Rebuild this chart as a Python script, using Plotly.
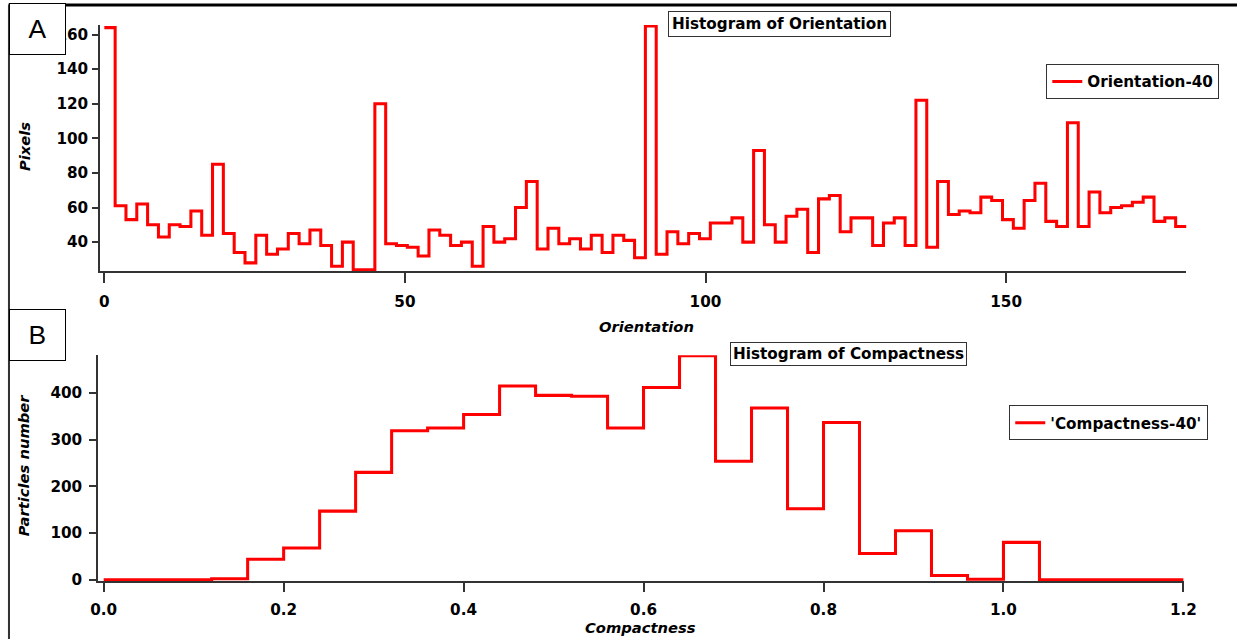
import numpy as np
import plotly.graph_objects as go

# Page geometry: the photo shows the page at a small fixed scale/offset, so
# reference pixel positions are converted to page pixels before use.
SX, SY, OX = 0.982, 0.987, 8.0
W, H = 1252, 648

# ---------------- Data ----------------
# Orientation histogram: 100 bins of width 1.8 deg over 0..180
orient_bin_width = 1.8
orient_counts = [
    164, 61, 53, 62, 50, 43, 50, 49, 58, 44,
    85, 45, 34, 28, 44, 33, 36, 45, 39, 47,
    38, 26, 40, 24, 24, 120, 39, 38, 37, 32,
    47, 44, 38, 40, 26, 49, 40, 42, 60, 75,
    36, 48, 39, 42, 36, 44, 34, 44, 41, 31,
    165, 33, 46, 39, 45, 42, 51, 51, 54, 40,
    93, 50, 40, 55, 59, 34, 65, 67, 46, 54,
    54, 38, 51, 54, 38, 122, 37, 75, 56, 58,
    57, 66, 64, 53, 48, 64, 74, 52, 49, 109,
    49, 69, 57, 60, 61, 63, 66, 52, 54, 49,
]
orient_ticks = [0, 50, 100, 150]
pixels_ticks = [40, 60, 80, 100, 120, 140, 160]

# Compactness histogram: 30 bins of width 0.04 over 0..1.2
compact_bin_width = 0.04
compact_counts = [
    0, 0, 0, 2, 44, 68, 147, 230, 319, 325,
    354, 415, 395, 393, 325, 412, 480, 254, 368, 152,
    337, 56, 105, 9, 1, 80, 0, 0, 0, 0,
]
compact_ticks = [0.0, 0.2, 0.4, 0.6, 0.8, 1.0, 1.2]
particles_ticks = [0, 100, 200, 300, 400]


def step_xy(counts, width):
    n = len(counts)
    edges = np.arange(n + 1) * width
    return list(edges), list(counts) + [counts[-1]]


ox, oy = step_xy(orient_counts, orient_bin_width)
cx, cy = step_xy(compact_counts, compact_bin_width)

RED = "#ff0000"
AX = "#333333"
FONT = "DejaVu Sans"
K = 1 / ((SX + SY) / 2)


def s(v):
    return v * K


def si(v):
    return int(round(v * K))


def px(x):
    return max(0.0, (x - OX) / SX) / W


def py(y):
    return 1 - (y / SY) / H


fig = go.Figure()
fig.add_trace(go.Scatter(x=ox, y=oy, mode="lines", line=dict(color=RED, width=s(3), shape="hv"),
                         name="Orientation-40", xaxis="x", yaxis="y", legend="legend",
                         showlegend=True, cliponaxis=False))
fig.add_trace(go.Scatter(x=cx, y=cy, mode="lines", line=dict(color=RED, width=s(3), shape="hv"),
                         name="'Compactness-40'", xaxis="x2", yaxis="y2", legend="legend2",
                         showlegend=True, cliponaxis=False))

tickfont = dict(family=FONT, size=s(15), weight="bold", color="black")
common = dict(showline=True, linecolor=AX, linewidth=s(1.5), ticks="outside",
              tickcolor=AX, tickwidth=s(1.5), showgrid=False, zeroline=False,
              tickfont=tickfont, fixedrange=True)
legfont = dict(family=FONT, size=s(15), weight="bold", color="black")

fig.update_layout(
    width=W, height=H, autosize=False,
    margin=dict(l=0, r=0, t=0, b=0),
    paper_bgcolor="white", plot_bgcolor="white",
    showlegend=True,
    xaxis=dict(domain=[px(100), px(1185)], range=[-0.7, 180], anchor="y",
               tickvals=orient_ticks, ticklen=s(10), ticklabelstandoff=si(6), **common),
    yaxis=dict(domain=[py(271), py(25)], range=[23.2, 165.5], anchor="x",
               tickvals=pixels_ticks, ticklen=s(6), ticklabelstandoff=si(1), **common),
    xaxis2=dict(domain=[px(98), px(1182.4)], range=[-0.0062, 1.2005], anchor="y2",
                tickvals=compact_ticks, ticktext=[f"{t:.1f}" for t in compact_ticks],
                ticklen=s(9), ticklabelstandoff=si(4), **common),
    yaxis2=dict(domain=[py(581), py(355)], range=[-3.6, 481], anchor="x2",
                tickvals=particles_ticks, ticklen=s(7), ticklabelstandoff=si(4), **common),
    legend=dict(x=px(1045), y=py(64), xanchor="left", yanchor="top",
                bordercolor=AX, borderwidth=1, bgcolor="white", font=legfont, itemwidth=30),
    legend2=dict(x=px(1008), y=py(405), xanchor="left", yanchor="top",
                 bordercolor=AX, borderwidth=1, bgcolor="white", font=legfont, itemwidth=30),
)

ann_title_font = dict(family=FONT, size=s(15), weight="bold", color="black")
axis_title_font = dict(family=FONT, size=s(14.5), weight="bold", style="italic", color="black")
letter_font = dict(family="Liberation Sans", size=s(26), color="black")
annotations = [
    dict(text="Histogram of Orientation", x=px(779), y=py(24), xref="paper", yref="paper",
         xanchor="center", yanchor="middle", showarrow=False, font=ann_title_font,
         bgcolor="white", bordercolor=AX, borderwidth=1, borderpad=3),
    dict(text="Histogram of Compactness", x=px(847), y=py(353.5), xref="paper", yref="paper",
         xanchor="center", yanchor="middle", showarrow=False, font=ann_title_font,
         bgcolor="white", bordercolor=AX, borderwidth=1, borderpad=2),
    dict(text="Pixels", x=px(24), y=py(147), xref="paper", yref="paper", textangle=-90,
         xanchor="center", yanchor="middle", showarrow=False, font=axis_title_font),
    dict(text="Orientation", x=px(646), y=py(326), xref="paper", yref="paper",
         xanchor="center", yanchor="middle", showarrow=False, font=axis_title_font),
    dict(text="Particles number", x=px(23), y=py(465), xref="paper", yref="paper", textangle=-90,
         xanchor="center", yanchor="middle", showarrow=False, font=axis_title_font),
    dict(text="Compactness", x=px(640), y=py(627), xref="paper", yref="paper",
         xanchor="center", yanchor="middle", showarrow=False, font=axis_title_font),
    dict(text="A", x=px(37), y=py(29), xref="paper", yref="paper",
         xanchor="center", yanchor="middle", showarrow=False, font=letter_font,
         width=s(52), height=s(47), bgcolor="white", bordercolor="black", borderwidth=1, borderpad=1),
    dict(text="B", x=px(37), y=py(335), xref="paper", yref="paper",
         xanchor="center", yanchor="middle", showarrow=False, font=letter_font,
         width=s(52), height=s(47), bgcolor="white", bordercolor="black", borderwidth=1, borderpad=1),
]
fig.update_layout(annotations=annotations)

fig.update_layout(shapes=[
    dict(type="line", xref="paper", yref="paper", x0=px(8.5), x1=1, y0=py(5), y1=py(5),
         line=dict(color="black", width=s(3))),
    dict(type="line", xref="paper", yref="paper", x0=1.0 / W, x1=1.0 / W, y0=0, y1=py(5),
         line=dict(color="#333333", width=s(2))),
])

POST = (
    "var h=document.documentElement,b=document.body;"
    "h.style.margin='0';h.style.padding='0';h.style.overflow='hidden';"
    "b.style.margin='0';b.style.padding='0';b.style.overflow='hidden';"
)

fig.write_html(
    "out.html",
    config={"responsive": False, "displayModeBar": False},
    post_script=POST,
)
